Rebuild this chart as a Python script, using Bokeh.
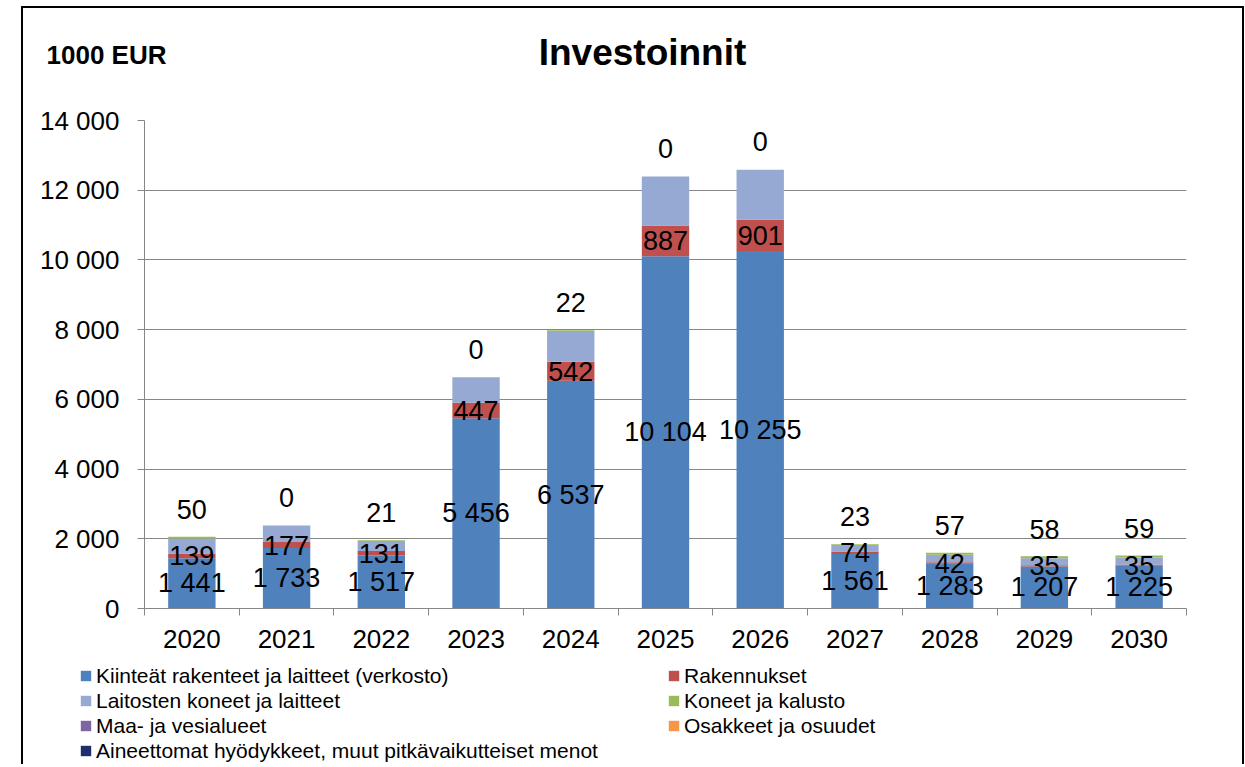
import numpy as np
from bokeh.plotting import figure
from bokeh.layouts import column
from bokeh.models import (ColumnDataSource, Range1d, FixedTicker, Legend, LegendItem, Label)
from bokeh.core.properties import value
from bokeh.embed import file_html
from bokeh.resources import INLINE

# ---------------- data ----------------
years = ["2020", "2021", "2022", "2023", "2024", "2025", "2026", "2027", "2028", "2029", "2030"]
kiinteat = [1441, 1733, 1517, 5456, 6537, 10104, 10255, 1561, 1283, 1207, 1225]
rakennukset = [139, 177, 131, 447, 542, 887, 901, 74, 42, 35, 35]
laitosten = [430, 470, 290, 730, 880, 1400, 1430, 185, 215, 200, 205]
koneet = [50, 0, 21, 0, 22, 0, 0, 23, 57, 58, 59]
maa = [0, 0, 0, 0, 0, 0, 0, 0, 0, 0, 0]
osakkeet = [0, 0, 0, 0, 0, 0, 0, 0, 0, 0, 0]
aineettomat = [0, 0, 0, 0, 0, 0, 0, 0, 0, 0, 0]

series_names = [
    "Kiinteät rakenteet ja laitteet (verkosto)",
    "Rakennukset",
    "Laitosten koneet ja laitteet",
    "Koneet ja kalusto",
    "Maa- ja vesialueet",
    "Osakkeet ja osuudet",
    "Aineettomat hyödykkeet, muut pitkävaikutteiset menot",
]
series_values = [kiinteat, rakennukset, laitosten, koneet, maa, osakkeet, aineettomat]
colors = ["#4F81BD", "#C0504D", "#95A9D2", "#9BBB59", "#8064A2", "#F79646", "#1F2F6B"]

y_ticks = [0, 2000, 4000, 6000, 8000, 10000, 12000, 14000]
y_tick_labels = ["0", "2 000", "4 000", "6 000", "8 000", "10 000", "12 000", "14 000"]

title_text = "Investoinnit"
unit_text = "1000 EUR"

FONT = "Liberation Sans"
GRAY = "#868686"
BORDER = "2px solid black"

# ---------------- main figure ----------------
W, H1 = 1219, 653
ML, MT = 121, 112
FW, FH = 1038, 486

p = figure(width=W, height=H1, x_range=Range1d(0, len(years)), y_range=Range1d(0, 14000),
           output_backend="svg", toolbar_location=None,
           min_border_left=ML, min_border_top=MT,
           min_border_right=W - ML - FW, min_border_bottom=H1 - MT - FH)
p.frame_align = False
p.outline_line_color = None
p.background_fill_color = "white"
p.border_fill_color = "white"
p.styles = {"box-sizing": "content-box", "border-top": BORDER,
            "border-left": BORDER, "border-right": BORDER}

xs = [i + 0.5 for i in range(len(years))]
keys = ["s%d" % i for i in range(len(series_values))]
data = {"x": xs}
for k, v in zip(keys, series_values):
    data[k] = v
src = ColumnDataSource(data)

p.vbar_stack(keys, x="x", width=0.5, color=colors, line_color=None, source=src)

# ---------------- data labels ----------------
def fmt(v):
    return "{:,}".format(v).replace(",", " ")

arr = np.array(series_values, dtype=float)
cum = np.cumsum(arr, axis=0)
bottoms = cum - arr
centers = bottoms + arr / 2.0

lab_x, lab_y, lab_t, lab_off = [], [], [], []
for si, off in [(0, 0), (1, 0), (3, -28)]:
    for i in range(len(years)):
        lab_x.append(xs[i])
        lab_y.append(centers[si][i])
        lab_t.append(fmt(series_values[si][i]))
        lab_off.append(off)
lsrc = ColumnDataSource(dict(x=lab_x, y=lab_y, t=lab_t, off=lab_off))
p.text(x="x", y="y", text="t", y_offset="off", source=lsrc, text_font=value(FONT),
       text_font_size="27px", text_align="center", text_baseline="middle", text_color="black")

# ---------------- axes ----------------
xax = p.xaxis[0]
xax.ticker = FixedTicker(ticks=xs, minor_ticks=list(range(len(years) + 1)))
xax.major_label_overrides = {x: y for x, y in zip(xs, years)}
xax.major_tick_out = 0
xax.major_tick_in = 0
xax.minor_tick_out = 7
xax.minor_tick_in = 0
xax.minor_tick_line_color = GRAY
xax.axis_line_color = GRAY
xax.major_label_text_font = FONT
xax.major_label_text_font_size = "26px"
xax.major_label_text_color = "black"
xax.major_label_standoff = 14

yax = p.yaxis[0]
yax.ticker = FixedTicker(ticks=y_ticks, minor_ticks=[])
yax.major_label_overrides = {t: l for t, l in zip(y_ticks, y_tick_labels)}
yax.major_tick_out = 7
yax.major_tick_in = 0
yax.major_tick_line_color = GRAY
yax.minor_tick_out = 0
yax.axis_line_color = GRAY
yax.major_label_text_font = FONT
yax.major_label_text_font_size = "26px"
yax.major_label_text_color = "black"
yax.major_label_standoff = 18

p.xgrid.visible = False
p.ygrid.ticker = FixedTicker(ticks=y_ticks)
p.ygrid.grid_line_color = GRAY

# ---------------- title / unit ----------------
p.add_layout(Label(x=617, y=42, x_units="canvas", y_units="canvas", text=title_text,
                   text_font=FONT, text_font_size="37px", text_font_style="bold",
                   text_align="center", text_baseline="middle", text_color="black"), "above")
p.add_layout(Label(x=21, y=44, x_units="canvas", y_units="canvas", text=unit_text,
                   text_font=FONT, text_font_size="26px", text_font_style="bold",
                   text_align="left", text_baseline="middle", text_color="black"), "above")

# ---------------- legend figure ----------------
H2 = 103
pl = figure(width=W, height=H2, output_backend="svg", toolbar_location=None,
            x_axis_location=None, y_axis_location=None,
            min_border_left=0, min_border_right=0, min_border_top=0, min_border_bottom=0)
pl.frame_align = False
pl.outline_line_color = None
pl.grid.visible = False
pl.styles = {"box-sizing": "content-box", "border-left": BORDER, "border-right": BORDER}

# legend swatches: zero-height bars (nothing visible is drawn in this strip)
leg_src = ColumnDataSource(dict(x=[0], top=[0]))
leg_renderers = [pl.vbar(x="x", top="top", width=0.5, color=c, line_color=None, source=leg_src)
                 for c in colors]

def make_legend(idx, loc):
    items = [LegendItem(label=series_names[i], renderers=[leg_renderers[i]]) for i in idx]
    return Legend(items=items, location=loc, padding=0, margin=0, spacing=0,
                  glyph_width=13, glyph_height=13, label_standoff=4, label_height=25,
                  label_text_font=FONT, label_text_font_size="21px", label_text_color="black",
                  background_fill_alpha=0, border_line_alpha=0)

pl.add_layout(make_legend([0, 2, 4, 6], (56, H2 - 2 - 100)), "center")
pl.add_layout(make_legend([1, 3, 5], (644, H2 - 2 - 75)), "center")

layout = column(p, pl, spacing=0)
layout.margin = (6, 0, 0, 21)

open("out.html", "w").write(file_html(layout, INLINE))
